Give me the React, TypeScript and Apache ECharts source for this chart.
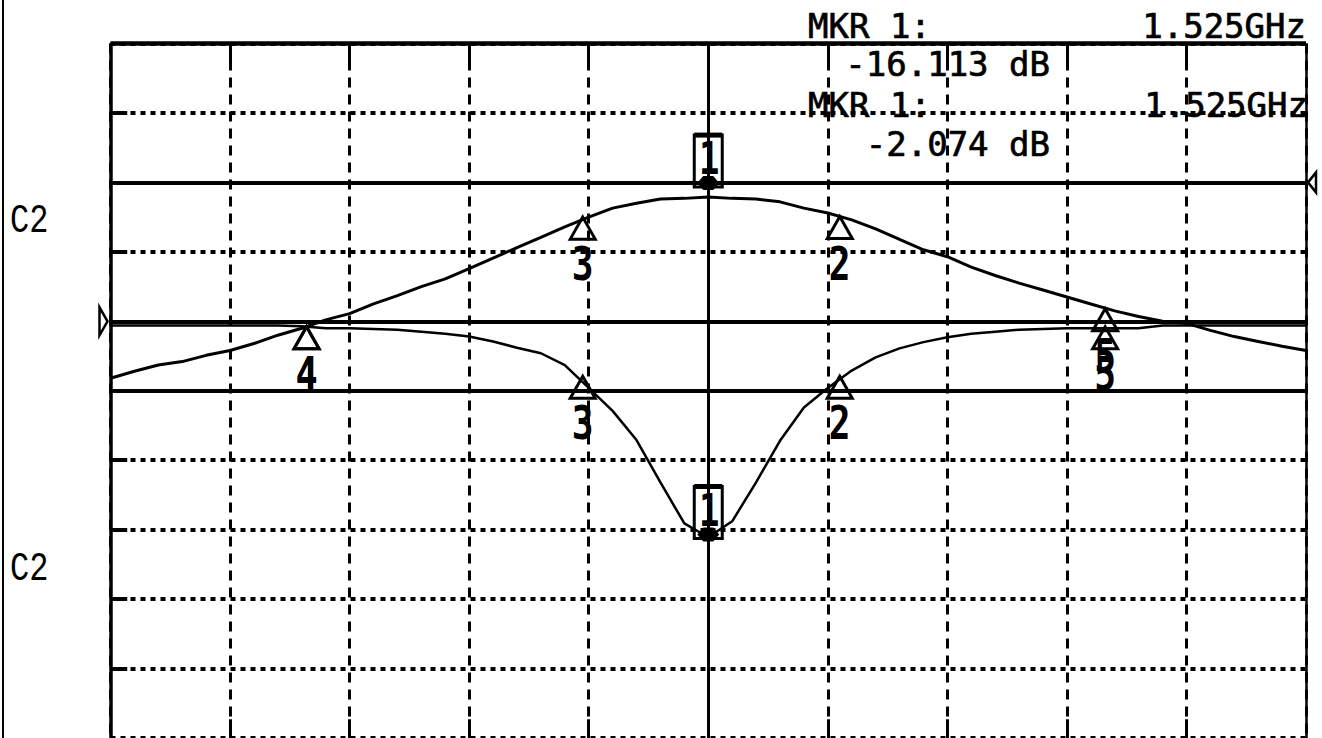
import React, { useEffect, useRef } from "react";
import * as echarts from "echarts";

// Sweep position in graticule divisions (0 = left edge, 10 = right edge)
const sweepDiv = [0, 0.2, 0.4, 0.6, 0.8, 1, 1.2, 1.4, 1.6, 1.8, 2, 2.2, 2.4, 2.6, 2.8, 3, 3.2, 3.4, 3.6, 3.8, 4, 4.2, 4.4, 4.6, 4.8, 5, 5.2, 5.4, 5.6, 5.8, 6, 6.2, 6.4, 6.6, 6.8, 7, 7.2, 7.4, 7.6, 7.8, 8, 8.2, 8.4, 8.6, 8.8, 9, 9.2, 9.4, 9.6, 9.8, 10];

// Transmission trace (upper), in vertical divisions from the bottom
const transTrace = [5.18, 5.28, 5.37, 5.42, 5.51, 5.58, 5.68, 5.80, 5.90, 6.02, 6.11, 6.25, 6.37, 6.50, 6.61, 6.76, 6.91, 7.06, 7.21, 7.36, 7.50, 7.63, 7.70, 7.76, 7.77, 7.79, 7.77, 7.76, 7.72, 7.63, 7.56, 7.46, 7.33, 7.18, 7.03, 6.93, 6.78, 6.66, 6.55, 6.45, 6.35, 6.25, 6.15, 6.07, 6.00, 5.97, 5.87, 5.78, 5.71, 5.64, 5.58];

// Reflection trace (lower dip), in vertical divisions from the bottom
const reflTrace = [5.94, 5.94, 5.94, 5.94, 5.94, 5.94, 5.94, 5.94, 5.93, 5.90, 5.90, 5.89, 5.88, 5.85, 5.82, 5.78, 5.71, 5.62, 5.54, 5.37, 5.04, 4.71, 4.29, 3.68, 3.09, 2.89, 3.12, 3.68, 4.28, 4.76, 5.04, 5.29, 5.48, 5.61, 5.70, 5.77, 5.82, 5.85, 5.88, 5.89, 5.90, 5.90, 5.90, 5.90, 5.94, 5.94, 5.94, 5.94, 5.94, 5.94, 5.94];

// Markers
const markerIds = ["1", "2", "3", "4", "5"];
const markerX = [5.0, 6.1, 3.95, 1.64, 8.32];
const transMarkerY = [7.99, 7.51, 7.5, 5.92, 6.18];
const reflMarkerY = [2.93, 5.21, 5.21, 5.92, 5.92];

// Reference position arrows
const refArrowX = [0, 10];
const refArrowY = [6, 8];

// Graticule
const solidRows = [10, 8, 6, 5];
const dottedRows = [9, 7, 4, 3, 2, 1];
const dashedCols = [1, 2, 3, 4, 6, 7, 8, 9];

// Readout texts
const mkrLabel = "MKR 1:";
const mkrFreq = ["1.525GHz", "1.525GHz"];
const mkrValue = ["-16.113 dB", "-2.074 dB"];
const channelLabels = ["C2", "C2"];

const BLACK = "#000";
const MONO = '"DejaVu Sans Mono", monospace';

function centerText(text: string, font: string) {
  return {
    text,
    font,
    fill: BLACK,
    align: "center",
    verticalAlign: "middle",
    textAlign: "center",
    textVerticalAlign: "middle",
  };
}

function markerRenderer(ids: string[]) {
  return (params: any, api: any) => {
    const i = params.dataIndex;
    const p = api.coord([api.value(0), api.value(1)]);
    const id = ids[i];
    if (id === "1") {
      return {
        type: "group",
        x: p[0],
        y: p[1],
        children: [
          { type: "rect", shape: { x: -14, y: -48, width: 28, height: 52 }, style: { fill: "none", stroke: BLACK, lineWidth: 3 } },
          { type: "line", shape: { x1: -14, y1: -48, x2: 14, y2: -48 }, style: { stroke: BLACK, lineWidth: 5 } },
          { type: "polygon", shape: { points: [[-11, 0], [-5, -7], [5, -7], [11, 0], [5, 7], [-5, 7]] }, style: { fill: BLACK } },
          { type: "text", x: 1, y: -24, scaleX: 0.77, style: centerText(id, `bold 44px ${MONO}`) },
        ],
      };
    }
    return {
      type: "group",
      x: p[0],
      y: p[1],
      children: [
        { type: "polygon", shape: { points: [[0, 0], [12.5, 22], [-12.5, 22]] }, style: { fill: "none", stroke: BLACK, lineWidth: 3 } },
        { type: "text", x: 0, y: 47, scaleX: 0.77, style: centerText(id, `bold 47px ${MONO}`) },
      ],
    };
  };
}

function refRenderer(params: any, api: any) {
  const p = api.coord([api.value(0), api.value(1)]);
  const pts = params.dataIndex === 0
    ? [[-3, 0], [-11, -14], [-11, 14]]
    : [[2, 0], [10, -10], [10, 10]];
  return {
    type: "polygon",
    x: p[0],
    y: p[1],
    shape: { points: pts },
    style: { fill: "#fff", stroke: BLACK, lineWidth: 2.5 },
  };
}

function textEl(text: string, x: number, y: number, align: string, font: string, scaleX = 1, strokeW = 0) {
  return {
    type: "text",
    x,
    y,
    scaleX,
    style: {
      text,
      font,
      fill: BLACK,
      stroke: strokeW > 0 ? BLACK : undefined,
      lineWidth: strokeW,
      align,
      verticalAlign: "middle",
      textAlign: align,
      textVerticalAlign: "middle",
    },
  };
}

export default function App() {
  const ref = useRef<HTMLDivElement>(null);

  useEffect(() => {
    document.body.style.margin = "0";
    if (!ref.current) return;
    const chart = echarts.init(ref.current, undefined, { renderer: "svg" });

    const gridLines: any[] = [];
    solidRows.forEach((y) => {
      gridLines.push({ yAxis: y, lineStyle: { color: BLACK, width: y === 10 ? 4.5 : 4, type: "solid" } });
    });
    gridLines.push({ xAxis: 0, lineStyle: { color: BLACK, width: 3.5, type: "solid" } });
    gridLines.push({ xAxis: 5, lineStyle: { color: BLACK, width: 3, type: "solid" } });
    gridLines.push({ xAxis: 10, lineStyle: { color: BLACK, width: 2.5, type: "solid" } });
    dottedRows.forEach((y) => {
      gridLines.push([
        { coord: [0, y], lineStyle: { color: BLACK, width: 4, type: "solid" } },
        { coord: [0.14, y] },
      ]);
    });
    dashedCols.forEach((x) => {
      gridLines.push([
        { coord: [x, 10], lineStyle: { color: BLACK, width: 3, type: "solid" } },
        { coord: [x, 9.73] },
      ]);
      gridLines.push([
        { coord: [x, 0], lineStyle: { color: BLACK, width: 3, type: "solid" } },
        { coord: [x, 0.27] },
      ]);
    });

    const option: any = {
      animation: false,
      backgroundColor: "#fff",
      grid: { left: 110.5, top: 43.5, width: 1195.5, height: 698, containLabel: false },
      xAxis: {
        type: "value",
        min: 0,
        max: 10,
        interval: 1,
        axisLine: { show: false },
        axisTick: { show: false },
        axisLabel: { show: false },
        splitLine: { show: true, lineStyle: { color: BLACK, width: 3, type: [10, 7] } },
      },
      yAxis: {
        type: "value",
        min: 0,
        max: 10,
        interval: 1,
        axisLine: { show: false },
        axisTick: { show: false },
        axisLabel: { show: false },
        splitLine: { show: true, lineStyle: { color: BLACK, width: 4, type: [5, 5] } },
      },
      series: [
        {
          type: "scatter",
          data: [],
          z: 1,
          silent: true,
          markLine: {
            silent: true,
            symbol: ["none", "none"],
            label: { show: false },
            emphasis: { disabled: true },
            data: gridLines,
          },
        },
        {
          type: "line",
          name: "transmission",
          data: sweepDiv.map((x, i) => [x, transTrace[i]]),
          showSymbol: false,
          symbol: "none",
          z: 2,
          silent: true,
          lineStyle: { color: BLACK, width: 3 },
        },
        {
          type: "line",
          name: "reflection",
          data: sweepDiv.map((x, i) => [x, reflTrace[i]]),
          showSymbol: false,
          symbol: "none",
          z: 2,
          silent: true,
          lineStyle: { color: BLACK, width: 2.5 },
        },
        {
          type: "custom",
          z: 3,
          silent: true,
          clip: false,
          data: markerX.map((x, i) => [x, transMarkerY[i]]),
          renderItem: markerRenderer(markerIds),
        },
        {
          type: "custom",
          z: 3,
          silent: true,
          clip: false,
          data: markerX.map((x, i) => [x, reflMarkerY[i]]),
          renderItem: markerRenderer(markerIds),
        },
        {
          type: "custom",
          z: 3,
          silent: true,
          clip: false,
          data: refArrowX.map((x, i) => [x, refArrowY[i]]),
          renderItem: refRenderer,
        },
      ],
      graphic: [
        { type: "line", shape: { x1: 3, y1: 0, x2: 3, y2: 738 }, style: { stroke: BLACK, lineWidth: 2 } },
        textEl(mkrLabel, 808, 25.5, "left", `34px ${MONO}`, 1, 0.7),
        textEl(mkrFreq[0], 1306, 25.5, "right", `34px ${MONO}`, 1, 0.7),
        textEl(mkrValue[0], 1050, 63.5, "right", `34px ${MONO}`, 1, 0.7),
        textEl(mkrLabel, 808, 105, "left", `34px ${MONO}`, 1, 0.7),
        textEl(mkrFreq[1], 1308, 105, "right", `34px ${MONO}`, 1, 0.7),
        textEl(mkrValue[1], 1050, 143.5, "right", `34px ${MONO}`, 1, 0.7),
        textEl(channelLabels[0], 10, 221, "left", '41px "Liberation Mono", monospace', 0.78),
        textEl(channelLabels[1], 10, 569, "left", '41px "Liberation Mono", monospace', 0.78),
      ],
    };

    chart.setOption(option);
    return () => {
      chart.dispose();
    };
  }, []);

  return <div ref={ref} style={{ width: 1322, height: 738, background: "#fff", overflow: "hidden" }} />;
}
